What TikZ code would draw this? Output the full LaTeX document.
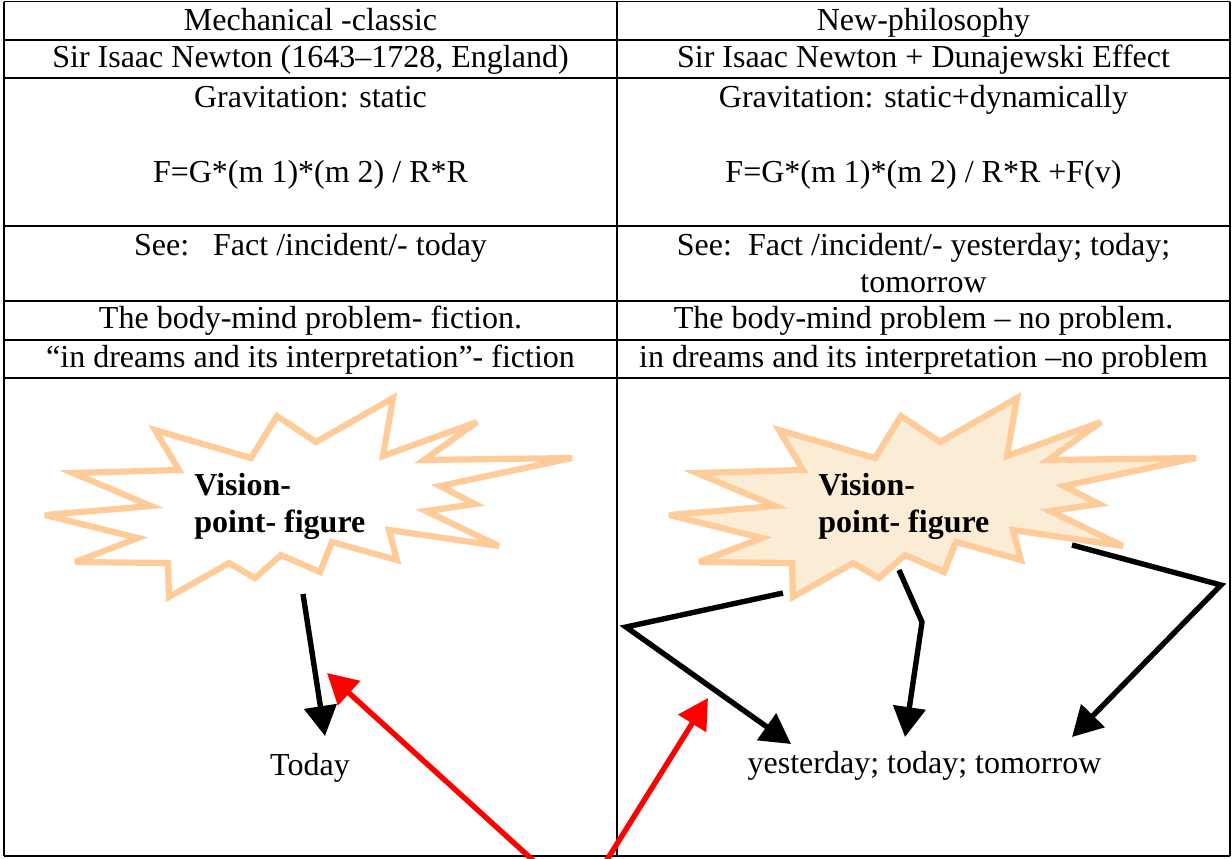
\documentclass[tikz,border=0pt]{standalone}
\usepackage{fontspec}
\setmainfont{Liberation Serif}
\usepackage{xcolor}
\usepackage{tikz}
\usetikzlibrary{arrows.meta}
\usetikzlibrary{positioning}
\definecolor{starline}{RGB}{255,204,153}
\definecolor{starfill}{RGB}{251,236,214}
\tikzset{
    cell/.style = {anchor=base, align=center, inner sep=0pt},
    burst/.style = {draw=starline, line width=3.1pt, miter limit=5},
    burstlabel/.style = {anchor=base west, align=left, inner sep=0pt, font=\fontsize{16}{18.5}\selectfont\bfseries},
}
% the vision burst, drawn twice
\newcommand{\visionburst}[2]{%
  \draw[burst, fill=#1, shift={#2}] (155,430) -- (251,458) -- (277,416) -- (316,442) -- (393,398)
    -- (383,456) -- (477,422) -- (424,460) -- (572,458) -- (440,486) -- (475,504) -- (426,511)
    -- (499,546) -- (389,530) -- (397,560) -- (332,542) -- (320,572) -- (281,555) -- (255,578)
    -- (229,563) -- (169,597) -- (168,563) -- (75,562) -- (138,538) -- (45,515) -- (151,506)
    -- (73,473) -- (179,470) -- cycle;}
\begin{document}
\begin{tikzpicture}[
	x=0.5pt, y=-0.5pt,
	font=\fontsize{16}{18.5}\selectfont
]
\tikzset{
    grid/.style = {line width=0.9pt},
    edgek/.style = {-{Triangle[length=15pt,width=16pt]}, line width=2.7pt, black},
    edger/.style = {-{Triangle[length=15pt,width=16pt]}, line width=2.7pt, red}
}
\useasboundingbox (0,0) rectangle (1232,858);
\clip (0,0) rectangle (1232,858);
%
\draw[grid] (4,1.5) -- (1230,1.5);
\draw[grid] (4,40) -- (1230,40);
\draw[grid] (4,78) -- (1230,78);
\draw[grid] (4,226) -- (1230,226);
\draw[grid] (4,301) -- (1230,301);
\draw[grid] (4,340) -- (1230,340);
\draw[grid] (4,378) -- (1230,378);
\draw[grid] (4,856) -- (1230,856);
\draw[grid] (4,1.5) -- (4,856);
\draw[grid] (617,1.5) -- (617,856);
\draw[grid] (1230,1.5) -- (1230,856);
%
\node[cell] at (310.5,30) (lhead) {Mechanical -classic};
\node[cell] at (923.5,30) (rhead) {New-philosophy};
\node[cell] at (310.5,67) (lname) {Sir Isaac Newton (1643--1728, England)};
\node[cell] at (923.5,67) (rname) {Sir Isaac Newton + Dunajewski Effect};
\node[cell] at (310.5,107) (lgrav) {Gravitation: static};
\node[cell] at (923.5,107) (rgrav) {Gravitation: static+dynamically};
\node[cell] at (310.5,182) (lform) {F=G*(m 1)*(m 2) / R*R};
\node[cell] at (923.5,182) (rform) {F=G*(m 1)*(m 2) / R*R +F(v)};
\node[cell] at (310.5,255) (lsee) {See:\ \ \ Fact /incident/- today};
\node[cell] at (923.5,292) (rsee) {See:\ \ Fact /incident/- yesterday; today;\\tomorrow};
\node[cell] at (310.5,328) (lbody) {The body-mind problem- fiction.};
\node[cell] at (923.5,328) (rbody) {The body-mind problem -- no problem.};
\node[cell] at (310.5,367) (ldream) {``in dreams and its interpretation''- fiction};
\node[cell] at (923.5,367) (rdream) {in dreams and its interpretation --no problem};
%
\visionburst{white}{(0,0)}
\visionburst{starfill}{(624,0)}
\node[burstlabel] at (194,532) (lvision) {Vision-\\point- figure};
\node[burstlabel] at (818,532) (rvision) {Vision-\\point- figure};
%
\node[cell] at (310,775) (today) {Today};
\node[cell] at (924.5,773) (ytt) {yesterday; today; tomorrow};
%
\coordinate (lfrom) at (303,594);
\coordinate (ltip) at (325,736);
\coordinate (afrom) at (783,593);
\coordinate (abend) at (626,627);
\coordinate (atip) at (791,744);
\coordinate (bfrom) at (899,570);
\coordinate (bbend) at (922,622);
\coordinate (btip) at (905,737);
\coordinate (cfrom) at (1072,545);
\coordinate (cbend) at (1221,585);
\coordinate (ctip) at (1072,737);
\coordinate (src) at (580,903);
\coordinate (rtipl) at (327,673);
\coordinate (rtipr) at (708,698);
%
\draw[edgek] (lfrom) -- (ltip);
\draw[edgek] (afrom) -- (abend) -- (atip);
\draw[edgek] (bfrom) -- (bbend) -- (btip);
\draw[edgek] (cfrom) -- (cbend) -- (ctip);
%
\draw[edger] (src) -- (rtipl);
\draw[edger] (src) -- (rtipr);
\end{tikzpicture}
\end{document}
